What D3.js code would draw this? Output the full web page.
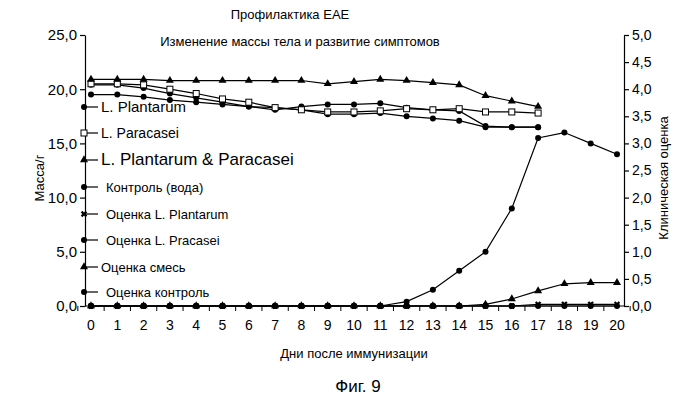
<!DOCTYPE html>
<html><head><meta charset="utf-8">
<script src="https://cdn.jsdelivr.net/npm/d3@7"></script>
<style>body{margin:0;background:#fff}text{font-family:Arial,"Liberation Sans",sans-serif}</style>
</head><body><svg id="c" width="700" height="408"></svg>
<script>
var days = d3.range(0, 21);
var massDays = d3.range(0, 18);
var plantarum = [20.4,20.4,20.1,19.6,19.2,18.8,18.4,18.1,18.4,18.6,18.6,18.7,18.3,18.1,18.0,16.6,16.5,16.5];
var paracasei = [20.5,20.5,20.4,20.0,19.6,19.1,18.8,18.3,18.1,17.9,17.9,18.0,18.2,18.1,18.2,17.9,17.9,17.8];
var mix = [20.9,20.9,20.9,20.8,20.8,20.8,20.8,20.8,20.8,20.5,20.7,20.9,20.8,20.6,20.4,19.4,18.9,18.4];
var control = [19.5,19.5,19.3,19.0,18.8,18.6,18.4,18.3,18.1,17.7,17.7,17.8,17.5,17.3,17.1,16.5,16.5,16.5];
var scorePlantarum = [0,0,0,0,0,0,0,0,0,0,0,0,0,0,0,0,0,0.03,0.03,0.03,0.03];
var scoreParacasei = [0,0,0,0,0,0,0,0,0,0,0,0,0,0,0,0,0,0,0,0,0];
var scoreMix = [0,0,0,0,0,0,0,0,0,0,0,0,0,0,0,0.03,0.13,0.28,0.41,0.43,0.43];
var scoreControl = [0,0,0,0,0,0,0,0,0,0,0,0,0.08,0.3,0.65,1.0,1.8,3.1,3.2,3.0,2.8];
var leftTicks = [0,5,10,15,20,25];
var rightTicks = [0,0.5,1,1.5,2,2.5,3,3.5,4,4.5,5];
var legendLabels = ["L. Plantarum","L. Paracasei","L. Plantarum & Paracasei","Контроль (вода)",
  "Оценка L. Plantarum","Оценка L. Pracasei","Оценка смесь","Оценка контроль"];

var svg = d3.select("#c");
var x = d3.scaleLinear().domain([0,20]).range([91,617]);
var yL = d3.scaleLinear().domain([0,25]).range([306,35]);
var yR = d3.scaleLinear().domain([0,5]).range([306,35]);
var fmt = function(d){ return d3.format(".1f")(d).replace(".", ","); };

function styleAxis(g){
  g.selectAll("path,line").attr("stroke","#000").attr("stroke-width",1.2);
  g.selectAll("text").attr("font-size",14).attr("fill","#000");
}
svg.append("g").attr("transform","translate(85,0)")
  .call(d3.axisLeft(yL).tickValues(leftTicks).tickFormat(fmt).tickSize(5).tickSizeOuter(0)).call(styleAxis)
  .selectAll("text").attr("font-size",15);
svg.append("g").attr("transform","translate(624,0)")
  .call(d3.axisRight(yR).tickValues(rightTicks).tickFormat(fmt).tickSize(5).tickSizeOuter(0)).call(styleAxis)
  .selectAll("text").attr("font-size",14);
var xa = svg.append("g").attr("transform","translate(0,306)");
xa.append("line").attr("x1",85).attr("x2",624).attr("stroke","#000").attr("stroke-width",1.2);
xa.selectAll("line.t").data(d3.range(-0.5,21,1)).enter().append("line").attr("class","t")
  .attr("x1",d=>x(d)).attr("x2",d=>x(d)).attr("y1",0).attr("y2",5).attr("stroke","#000");
xa.selectAll("text").data(days).enter().append("text")
  .attr("x",d=>x(d)).attr("y",24).attr("text-anchor","middle").attr("font-size",14).text(d=>d);

function symbol(g, type, cx, cy){
  if(type==="circle") g.append("circle").attr("cx",cx).attr("cy",cy).attr("r",3).attr("fill","#000");
  else if(type==="square") g.append("rect").attr("x",cx-3).attr("y",cy-3).attr("width",6).attr("height",6).attr("fill","#fff").attr("stroke","#000");
  else if(type==="triangle") g.append("path").attr("d",d3.symbol(d3.symbolTriangle,28)()).attr("transform","translate("+cx+","+cy+")").attr("fill","#000");
  else if(type==="star") g.append("path").attr("d",d3.symbol(d3.symbolCross,26)()).attr("transform","translate("+cx+","+cy+") rotate(45)").attr("fill","#000");
}
function series(vals, xs, y, type){
  var g = svg.append("g");
  var pts = vals.map((v,i)=>[x(xs[i]), y(v)]);
  g.append("path").attr("d",d3.line()(pts)).attr("fill","none").attr("stroke","#000").attr("stroke-width",1.2);
  pts.forEach(p=>symbol(g,type,p[0],p[1]));
}
series(scorePlantarum, days, yR, "star");
series(scoreParacasei, days, yR, "circle");
series(scoreMix, days, yR, "triangle");
series(scoreControl, days, yR, "circle");
series(control, massDays, yL, "circle");
series(plantarum, massDays, yL, "circle");
series(paracasei, massDays, yL, "square");
series(mix, massDays, yL, "triangle");

var legY = [107,133,160,187,214,240,267,292];
var legSym = ["circle","square","triangle","circle","star","circle","triangle","circle"];
var legSize = [15,14,17,13,13,13,13,13];
legendLabels.forEach(function(l,i){
  var g = svg.append("g");
  g.append("line").attr("x1",82).attr("x2",98).attr("y1",legY[i]).attr("y2",legY[i]).attr("stroke","#000").attr("stroke-width",1.2);
  symbol(g, legSym[i], 84, legY[i]);
  g.append("text").attr("x",i<3||i==6?101:106).attr("y",legY[i]+5).attr("font-size",legSize[i]).text(l);
});

svg.append("text").attr("x",290).attr("y",19).attr("text-anchor","middle").attr("font-size",13).text("Профилактика EAE");
svg.append("text").attr("x",300).attr("y",46).attr("text-anchor","middle").attr("font-size",13).text("Изменение массы тела и развитие симптомов");
svg.append("text").attr("transform","translate(44,178) rotate(-90)").attr("text-anchor","middle").attr("font-size",13).text("Масса/г");
svg.append("text").attr("transform","translate(668,178) rotate(-90)").attr("text-anchor","middle").attr("font-size",13).text("Клиническая оценка");
svg.append("text").attr("x",354).attr("y",358).attr("text-anchor","middle").attr("font-size",13).text("Дни после иммунизации");
svg.append("text").attr("x",358).attr("y",392).attr("text-anchor","middle").attr("font-size",17).text("Фиг. 9");
</script></body></html>
